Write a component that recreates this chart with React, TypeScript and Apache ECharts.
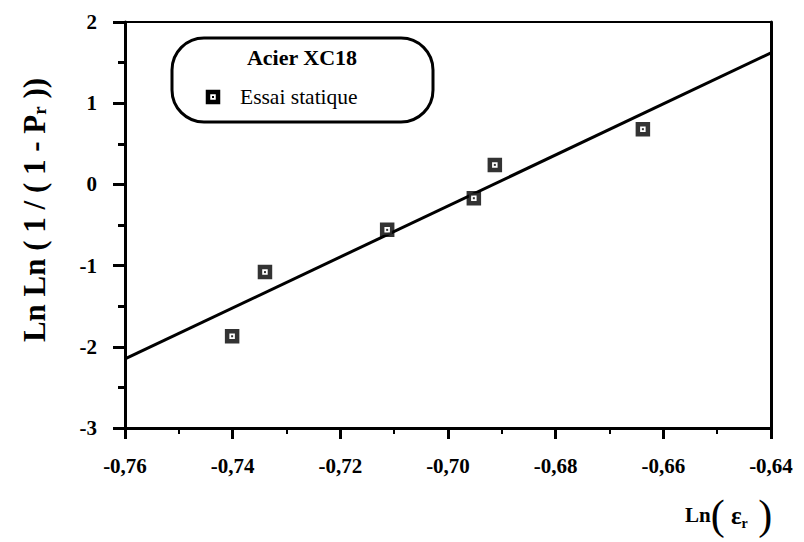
import React, { useEffect, useRef } from "react";
import * as echarts from "echarts";

const pointsX = [-0.7401, -0.734, -0.7113, -0.6952, -0.6913, -0.6638];
const pointsY = [-1.87, -1.08, -0.56, -0.17, 0.24, 0.68];
const fitX = [-0.76, -0.64];
const fitY = [-2.15, 1.62];
const legendTitle = "Acier XC18";
const seriesName = "Essai statique";

const FONT = "'Liberation Serif', 'Times New Roman', serif";

export default function App() {
  const ref = useRef<HTMLDivElement>(null);
  useEffect(() => {
    const chart = echarts.init(ref.current!, null, { renderer: "svg" });
    const scatterData = pointsX.map((x, i) => [x, pointsY[i]]);
    const fitData = fitX.map((x, i) => [x, fitY[i]]);
    const labelStyle = {
      fontFamily: FONT,
      fontWeight: "bold" as const,
      fontSize: 21,
      color: "#000",
    };
    chart.setOption({
      animation: false,
      backgroundColor: "#fff",
      grid: { left: 125, right: 33, top: 22, bottom: 114 },
      xAxis: [
        {
          type: "value",
          min: -0.76,
          max: -0.64,
          interval: 0.02,
          position: "bottom",
          axisLine: { show: true, onZero: false, lineStyle: { color: "#000", width: 3 } },
          axisTick: { show: true, length: 11, lineStyle: { color: "#000", width: 3 } },
          minorTick: { show: true, splitNumber: 2, length: 6, lineStyle: { color: "#000", width: 2 } },
          splitLine: { show: false },
          axisLabel: {
            ...labelStyle,
            margin: 27,
            formatter: (v: number) => (Math.round(v * 100) / 100).toFixed(2).replace(".", ","),
          },
        },
        {
          type: "value",
          min: -0.76,
          max: -0.64,
          position: "top",
          axisLine: { show: true, onZero: false, lineStyle: { color: "#000", width: 2 } },
          axisTick: { show: false },
          axisLabel: { show: false },
          splitLine: { show: false },
        },
      ],
      yAxis: [
        {
          type: "value",
          min: -3,
          max: 2,
          interval: 1,
          position: "left",
          axisLine: { show: true, onZero: false, lineStyle: { color: "#000", width: 3 } },
          axisTick: { show: true, length: 12, lineStyle: { color: "#000", width: 3 } },
          minorTick: { show: true, splitNumber: 2, length: 7, lineStyle: { color: "#000", width: 3 } },
          splitLine: { show: false },
          axisLabel: { ...labelStyle, margin: 28 },
        },
        {
          type: "value",
          min: -3,
          max: 2,
          position: "right",
          axisLine: { show: true, onZero: false, lineStyle: { color: "#000", width: 3 } },
          axisTick: { show: false },
          axisLabel: { show: false },
          splitLine: { show: false },
        },
      ],
      series: [
        {
          type: "line",
          data: fitData,
          symbol: "none",
          lineStyle: { color: "#000", width: 3 },
          z: 2,
        },
        {
          name: seriesName,
          type: "scatter",
          data: scatterData,
          symbol: "rect",
          symbolSize: 10,
          itemStyle: { color: "#fff", borderColor: "#000", borderWidth: 4.5 },
          z: 3,
        },
        {
          type: "scatter",
          data: scatterData,
          symbol: "rect",
          symbolSize: 2,
          itemStyle: { color: "#000" },
          z: 4,
        },
      ],
      graphic: [
        {
          type: "rect",
          shape: { x: 172, y: 38, width: 261, height: 84, r: 32 },
          style: { fill: "none", stroke: "#000", lineWidth: 3 },
        },
        {
          type: "text",
          x: 302,
          y: 57,
          style: {
            text: legendTitle,
            font: `bold 22px ${FONT}`,
            fill: "#000",
            align: "center",
            verticalAlign: "middle",
          },
        },
        {
          type: "rect",
          shape: { x: 208, y: 92, width: 10, height: 10 },
          style: { fill: "#fff", stroke: "#000", lineWidth: 4.5 },
        },
        {
          type: "rect",
          shape: { x: 212, y: 96, width: 2, height: 2 },
          style: { fill: "#000" },
        },
        {
          type: "text",
          x: 240,
          y: 97,
          style: {
            text: seriesName,
            font: `21.5px ${FONT}`,
            fill: "#000",
            align: "left",
            verticalAlign: "middle",
          },
        },
        {
          type: "text",
          x: 34,
          y: 210,
          rotation: Math.PI / 2,
          style: {
            text: "{a|Ln Ln ( 1 / ( 1 - P}{s|r}{a| ))}",
            align: "center",
            verticalAlign: "middle",
            fill: "#000",
            rich: {
              a: { font: `bold 31px ${FONT}`, fill: "#000", lineHeight: 38, verticalAlign: "middle" },
              s: { font: `bold 19px ${FONT}`, fill: "#000", lineHeight: 38, verticalAlign: "bottom", padding: [0, 0, 4, 0] },
            },
          },
        },
        {
          type: "text",
          x: 685,
          y: 515,
          style: {
            text: "{a|Ln}{p|(}{e| ε}{s|r}{p| )}",
            align: "left",
            verticalAlign: "middle",
            fill: "#000",
            rich: {
              a: { font: `bold 21px ${FONT}`, fill: "#000", lineHeight: 46, verticalAlign: "middle" },
              p: { font: `42px ${FONT}`, fill: "#000", lineHeight: 46, verticalAlign: "middle" },
              e: { font: `bold 25px ${FONT}`, fill: "#000", lineHeight: 46, verticalAlign: "middle" },
              s: { font: `bold 14px ${FONT}`, fill: "#000", lineHeight: 46, verticalAlign: "bottom", padding: [0, 0, 8, 0] },
            },
          },
        },
      ],
    });
    return () => chart.dispose();
  }, []);
  return <div ref={ref} style={{ width: 804, height: 542, position: "absolute", left: 0, top: 0 }} />;
}
